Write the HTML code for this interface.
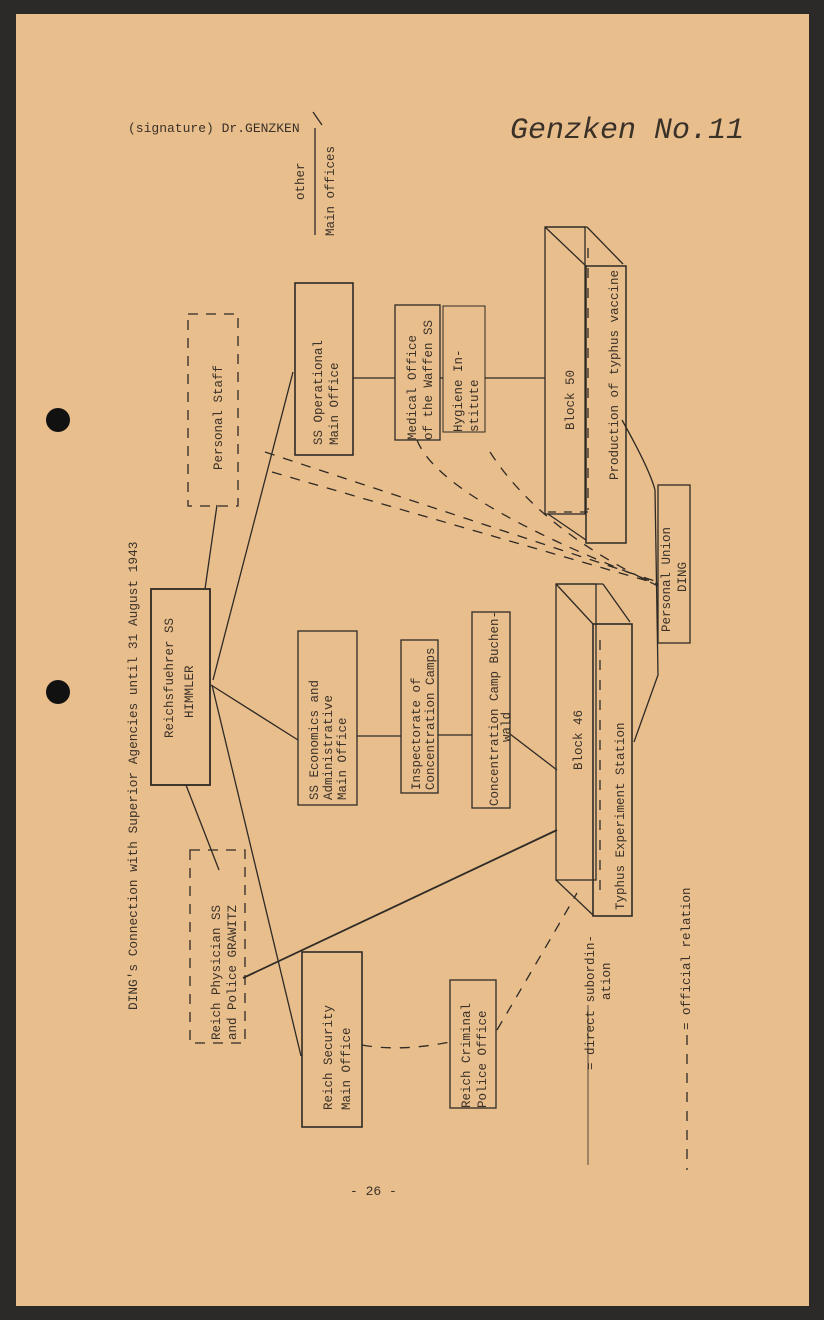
<!DOCTYPE html>
<html><head><meta charset="utf-8"><style>
html,body{margin:0;padding:0;background:#2b2a28;}
svg{display:block}
text{font-family:"Liberation Mono",monospace;fill:#3a3128;}
</style></head><body>
<svg width="824" height="1320" viewBox="0 0 824 1320" xmlns="http://www.w3.org/2000/svg">
<rect x="0" y="0" width="824" height="1320" fill="#2b2a28"/>
<rect x="16" y="14" width="793" height="1292" fill="#e9be8d"/>
<circle cx="58" cy="420" r="12" fill="#111"/>
<circle cx="58" cy="692" r="12" fill="#111"/>

<g stroke="#2e2a25" fill="none" stroke-width="1.3">
<!-- other/main offices line -->
<line x1="315" y1="128" x2="315" y2="235"/>
<line x1="313" y1="112" x2="322" y2="125"/>
<!-- Himmler box -->
<rect x="151" y="589" width="59" height="196" stroke-width="1.8"/>
<!-- Personal staff dashed -->
<rect x="188" y="314" width="50" height="192" stroke-dasharray="10,8"/>
<!-- SS Operational -->
<rect x="295" y="283" width="58" height="172" stroke-width="1.6"/>
<!-- Medical -->
<rect x="395" y="305" width="45" height="135"/>
<!-- Hygiene -->
<rect x="443" y="306" width="42" height="126" stroke-width="1"/>
<!-- Block 50 -->
<rect x="545" y="227" width="40" height="287"/>
<rect x="586" y="266" width="40" height="277" stroke-width="1.5"/>
<line x1="545" y1="227" x2="586" y2="266"/>
<line x1="587" y1="227" x2="623" y2="264"/>
<line x1="545" y1="227" x2="587" y2="227"/>
<line x1="548" y1="514" x2="586" y2="540"/>
<line x1="588" y1="248" x2="588" y2="510" stroke-dasharray="10,10"/>
<line x1="548" y1="512" x2="590" y2="512" stroke-dasharray="8,8"/>
<!-- connectors top row -->
<line x1="353" y1="378" x2="395" y2="378"/>
<line x1="440" y1="378" x2="443" y2="378"/>
<line x1="485" y1="378" x2="545" y2="378"/>
<!-- Personal Union -->
<rect x="658" y="485" width="32" height="158"/>
<path d="M622 420 Q650 470 655 490 L658 675 L634 742"/>
<!-- SS Economics -->
<rect x="298" y="631" width="59" height="174"/>
<!-- Inspectorate -->
<rect x="401" y="640" width="37" height="153"/>
<!-- Conc Camp -->
<rect x="472" y="612" width="38" height="196"/>
<line x1="357" y1="736" x2="401" y2="736"/>
<line x1="438" y1="735" x2="472" y2="735"/>
<line x1="510" y1="734" x2="557" y2="770"/>
<!-- Block 46 -->
<rect x="556" y="584" width="40" height="296"/>
<rect x="593" y="624" width="39" height="292" stroke-width="1.6"/>
<line x1="556" y1="584" x2="593" y2="624"/>
<line x1="556" y1="584" x2="603" y2="584"/>
<line x1="603" y1="584" x2="630" y2="622"/>
<line x1="556" y1="880" x2="593" y2="915"/>
<line x1="600" y1="640" x2="600" y2="900" stroke-dasharray="10,10"/>
<!-- Reich physician dashed -->
<rect x="190" y="850" width="55" height="193" stroke-dasharray="10,8"/>
<!-- Reich Security -->
<rect x="302" y="952" width="60" height="175" stroke-width="1.6"/>
<!-- Reich Criminal -->
<rect x="450" y="980" width="46" height="128"/>
<!-- Himmler lines -->
<line x1="205" y1="589" x2="217" y2="505"/>
<line x1="213" y1="680" x2="293" y2="372"/>
<line x1="211" y1="685" x2="298" y2="740"/>
<line x1="212" y1="685" x2="301" y2="1056"/>
<line x1="186" y1="785" x2="219" y2="870"/>
<line x1="557" y1="830" x2="243" y2="978" stroke-width="1.8"/>
<!-- dashed official -->
<g stroke-dasharray="10,9">
<line x1="265" y1="452" x2="658" y2="582"/>
<line x1="272" y1="472" x2="658" y2="584"/>
<path d="M417 440 Q440 500 658 584"/>
<path d="M490 452 Q540 530 658 586"/>
<path d="M362 1045 Q400 1052 450 1042"/>
<path d="M497 1030 Q550 940 577 893"/>
<line x1="687" y1="1035" x2="687" y2="1170"/>
</g>
<line x1="588" y1="1005" x2="588" y2="1165" stroke-width="0.8"/>
</g>

<g font-size="12.5">
<text x="128" y="132" font-size="13">(signature) Dr.GENZKEN</text>
<text x="510" y="138" font-family="Liberation Serif" font-style="italic" font-size="30" fill="#3a3a44">Genzken No.11</text>
<text transform="translate(137,1010) rotate(-90)" font-size="12.8">DING's Connection with Superior Agencies until 31 August 1943</text>
<text transform="translate(304,200) rotate(-90)">other</text>
<text transform="translate(334,236) rotate(-90)">Main offices</text>
<text transform="translate(173,738) rotate(-90)">Reichsfuehrer SS</text>
<text transform="translate(193,718) rotate(-90)">HIMMLER</text>
<text transform="translate(222,470) rotate(-90)">Personal Staff</text>
<text transform="translate(322,445) rotate(-90)">SS Operational</text>
<text transform="translate(338,445) rotate(-90)">Main Office</text>
<text transform="translate(416,440) rotate(-90)">Medical Office</text>
<text transform="translate(432,440) rotate(-90)">of the Waffen SS</text>
<text transform="translate(462,432) rotate(-90)">Hygiene In-</text>
<text transform="translate(478,432) rotate(-90)">stitute</text>
<text transform="translate(574,430) rotate(-90)">Block 50</text>
<text transform="translate(618,480) rotate(-90)">Production of typhus vaccine</text>
<text transform="translate(670,632) rotate(-90)">Personal Union</text>
<text transform="translate(686,592) rotate(-90)">DING</text>
<text transform="translate(318,800) rotate(-90)">SS Economics and</text>
<text transform="translate(332,800) rotate(-90)">Administrative</text>
<text transform="translate(346,800) rotate(-90)">Main Office</text>
<text transform="translate(420,790) rotate(-90)">Inspectorate of</text>
<text transform="translate(434,790) rotate(-90)">Concentration Camps</text>
<text transform="translate(498,806) rotate(-90)">Concentration Camp Buchen-</text>
<text transform="translate(510,742) rotate(-90)">wald</text>
<text transform="translate(582,770) rotate(-90)">Block 46</text>
<text transform="translate(624,910) rotate(-90)">Typhus Experiment Station</text>
<text transform="translate(220,1040) rotate(-90)">Reich Physician SS</text>
<text transform="translate(236,1040) rotate(-90)">and Police GRAWITZ</text>
<text transform="translate(332,1110) rotate(-90)">Reich Security</text>
<text transform="translate(350,1110) rotate(-90)">Main Office</text>
<text transform="translate(470,1108) rotate(-90)">Reich Criminal</text>
<text transform="translate(486,1108) rotate(-90)">Police Office</text>
<text transform="translate(594,1070) rotate(-90)">= direct subordin-</text>
<text transform="translate(610,1000) rotate(-90)">ation</text>
<text transform="translate(690,1030) rotate(-90)">= official relation</text>
<text x="350" y="1195" font-size="13">-  26  -</text>
</g>
</svg>
</body></html>
